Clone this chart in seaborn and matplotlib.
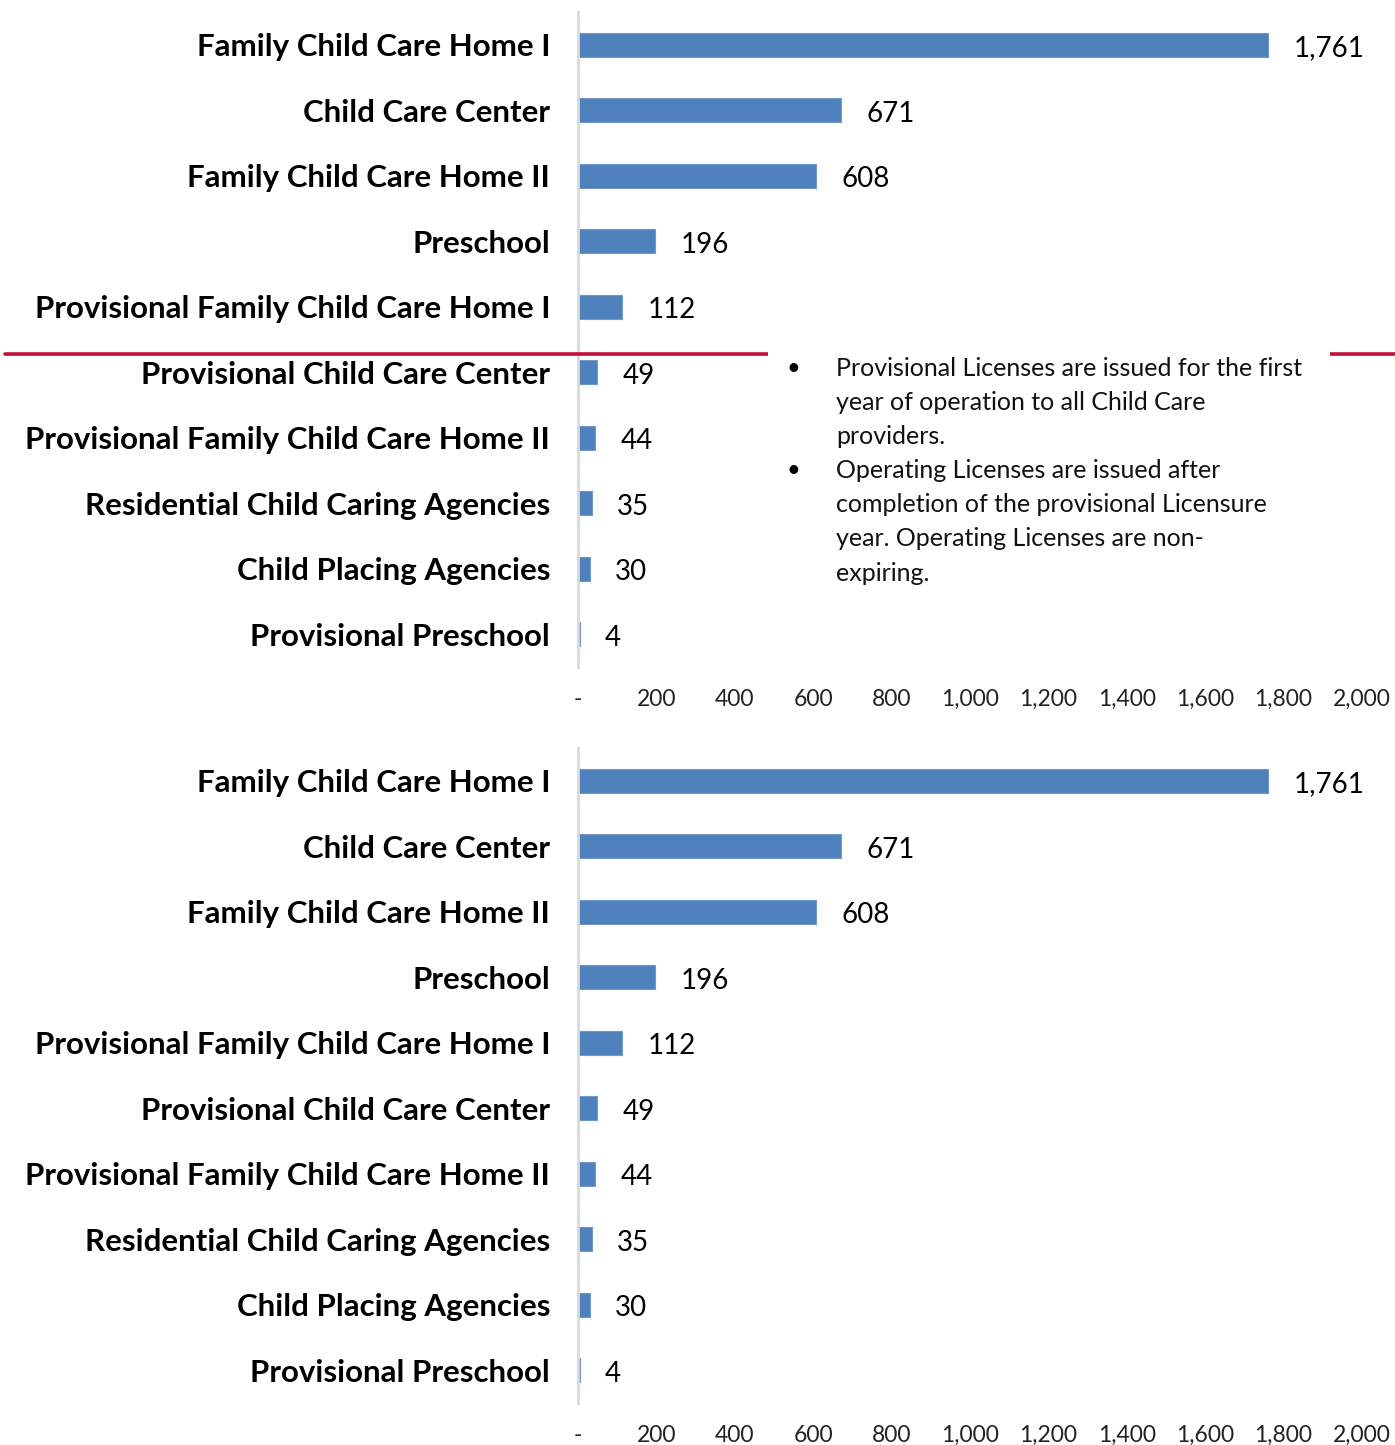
import matplotlib
matplotlib.use("Agg")
import matplotlib.pyplot as plt
import seaborn as sns
import pandas as pd
from matplotlib.ticker import FuncFormatter
from matplotlib.lines import Line2D
from matplotlib.patches import Rectangle
from matplotlib.transforms import offset_copy

categories = [
    "Family Child Care Home I",
    "Child Care Center",
    "Family Child Care Home II",
    "Preschool",
    "Provisional Family Child Care Home I",
    "Provisional Child Care Center",
    "Provisional Family Child Care Home II",
    "Residential Child Caring Agencies",
    "Child Placing Agencies",
    "Provisional Preschool",
]
counts = [1761, 671, 608, 196, 112, 49, 44, 35, 30, 4]
x_ticks = [0, 200, 400, 600, 800, 1000, 1200, 1400, 1600, 1800, 2000]
notes = [
    "Provisional Licenses are issued for the first\nyear of operation to all Child Care\nproviders.",
    "Operating Licenses are issued after\ncompletion of the provisional Licensure\nyear. Operating Licenses are non-\nexpiring.",
]

sns.set_theme(style="white")
plt.rcParams["font.family"] = ["Lato", "DejaVu Sans"]

df = pd.DataFrame({"category": categories, "count": counts})

W, H = 1395, 1445
fig = plt.figure(figsize=(W / 100, H / 100), dpi=100)
fig.patch.set_facecolor("white")

left = 578 / W
right = 1362 / W
panels = [(12, 667), (748, 1403)]

def fmt(v, pos):
    return "-" if v == 0 else f"{int(v):,}"

for top, bot in panels:
    ax = fig.add_axes([left, 1 - bot / H, right - left, (bot - top) / H])
    sns.barplot(data=df, y="category", x="count", orient="h", color="#4F81BD",
                saturation=1, width=0.37, edgecolor="#6F97CB", linewidth=0.8, ax=ax)
    ax.set_xlim(0, 2000)
    ax.set_ylim(9.5, -0.5)
    ax.set_xticks(x_ticks)
    ax.xaxis.set_major_formatter(FuncFormatter(fmt))
    ax.set_xlabel("")
    ax.set_ylabel("")
    for s in ["top", "right", "bottom"]:
        ax.spines[s].set_visible(False)
    ax.spines["left"].set_color("#D9D9D9")
    ax.spines["left"].set_linewidth(2)
    ax.tick_params(axis="x", length=0, pad=15.5, labelsize=16.5, colors="#222222")
    ax.tick_params(axis="y", length=0, pad=20, labelsize=22.5)
    for lbl in ax.get_yticklabels():
        lbl.set_fontweight("bold")
        lbl.set_color("black")
    tr = offset_copy(ax.transData, fig=fig, x=0, y=-2.5, units="points")
    for i, v in enumerate(counts):
        ax.text(v + 65, i, f"{v:,}", va="center", ha="left", fontsize=20,
                color="black", transform=tr)

# red divider line with note box
fig.add_artist(Line2D([5 / W, 1395 / W], [1 - 354 / H, 1 - 354 / H],
                      color="#C00F3A", linewidth=2.6, transform=fig.transFigure))
fig.add_artist(Rectangle((768 / W, 1 - 600 / H), (1330 - 768) / W, (600 - 350) / H,
                         transform=fig.transFigure, facecolor="white", edgecolor="none", zorder=3))
line_h = 34
y0 = 369
row = 0
for note in notes:
    fig.text(793 / W, 1 - (y0 + row * line_h) / H, "\u2022", ha="center", va="center",
             fontsize=17, color="black", zorder=4)
    for line in note.split("\n"):
        fig.text(836 / W, 1 - (y0 + row * line_h) / H, line, ha="left", va="center",
                 fontsize=18, color="#111111", zorder=4)
        row += 1

fig.savefig("out.png", dpi=100, facecolor="white")
